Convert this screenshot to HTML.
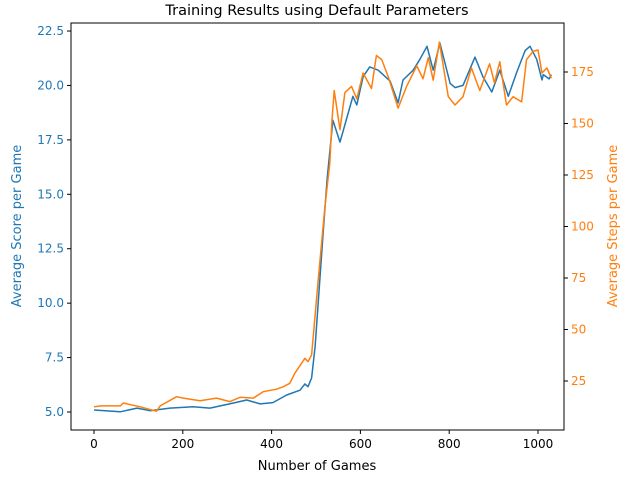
<!DOCTYPE html>
<html><head><meta charset="utf-8"><style>
body{margin:0;background:#fff;}
svg text{font-family:"DejaVu Sans","Liberation Sans",sans-serif;}
</style></head><body>
<svg id="chart" width="627" height="473" xmlns="http://www.w3.org/2000/svg"></svg>
<script>
const scoreGames=[0,59,97,126,171,223,261,313,344,374,403,434,464,475,482,490,498,516,525,538,554,570,583,592,606,621,640,667,685,696,719,734,750,764,779,802,813,831,858,876,896,914,933,952,971,982,997,1009,1012,1025,1030];
const scoreValues=[5.09,5.01,5.18,5.06,5.18,5.24,5.18,5.41,5.55,5.37,5.43,5.78,6.0,6.29,6.16,6.56,8.0,13.2,15.7,18.4,17.4,18.55,19.5,19.1,20.4,20.85,20.7,20.2,19.2,20.25,20.7,21.2,21.8,20.7,21.95,20.1,19.9,20.0,21.3,20.4,19.7,20.7,19.5,20.6,21.6,21.8,21.2,20.25,20.5,20.3,20.5];
const stepGames=[0,16,59,66,104,130,141,149,186,201,239,276,306,329,359,381,411,426,441,452,475,482,490,497,505,520,531,536,541,554,565,580,592,606,625,636,648,663,685,704,727,741,753,764,778,798,813,831,850,869,891,902,914,929,944,963,974,989,1000,1009,1020,1030];
const stepValues=[12.5,12.9,12.9,14.3,12.5,10.9,10.4,12.9,17.4,16.7,15.4,16.7,15.0,17.1,16.7,19.8,21.0,22.2,23.9,28.7,36.0,34.4,37.6,54.6,74,109.5,130.8,151.7,166,147,165,168,162,174.5,167,183,181,172.5,157.5,168,178,171.7,182,171,189.5,163,159,163,177,166,179,169.7,180,159,163,160.5,181,185,185.7,174.5,177,172];
const xTicks=[0,200,400,600,800,1000];
const yLeftTicks=[5.0,7.5,10.0,12.5,15.0,17.5,20.0,22.5];
const yRightTicks=[25,50,75,100,125,150,175];

const L=71,R=564,T=23,B=430;
const xS=v=>94+(v)*0.444;
const yL=v=>412-(v-5)*21.77;
const yR=v=>381-(v-25)*2.06;
const NS="http://www.w3.org/2000/svg";
const svg=document.getElementById('chart');
function mk(tag,attrs,txt){const e=document.createElementNS(NS,tag);for(const k in attrs)e.setAttribute(k,attrs[k]);if(txt!==undefined)e.textContent=txt;svg.appendChild(e);return e;}

let p=scoreGames.map((g,i)=>(i?'L':'M')+xS(g).toFixed(1)+','+yL(scoreValues[i]).toFixed(1)).join('');
const sl=mk('path',{d:p,fill:'none',stroke:'#1f77b4','stroke-width':1.5,'stroke-linejoin':'round'});


p=stepGames.map((g,i)=>(i?'L':'M')+xS(g).toFixed(1)+','+yR(stepValues[i]).toFixed(1)).join('');
const stl=mk('path',{d:p,fill:'none',stroke:'#ff7f0e','stroke-width':1.5,'stroke-linejoin':'round'});



const fr=mk('rect',{x:L,y:T,width:R-L,height:B-T,fill:'none',stroke:'#000','stroke-width':1});



xTicks.forEach(v=>{const x=xS(v);mk('line',{x1:x,x2:x,y1:B,y2:B+4,stroke:'#000'});
const t=mk('text',{x:x,y:B+18,'font-size':12,'text-anchor':'middle'},String(v));

});
yLeftTicks.forEach(v=>{const y=yL(v);mk('line',{x1:L-4,x2:L,y1:y,y2:y,stroke:'#000'});
const t=mk('text',{x:L-7,y:y+4,'font-size':12,'text-anchor':'end',fill:'#1f77b4'},v.toFixed(1));

});
yRightTicks.forEach(v=>{const y=yR(v);mk('line',{x1:R,x2:R+4,y1:y,y2:y,stroke:'#000'});
const t=mk('text',{x:R+7,y:y+4,'font-size':12,'text-anchor':'start',fill:'#ff7f0e'},String(v));

});

const ti=mk('text',{x:317,y:15,'font-size':14.5,'text-anchor':'middle'},'Training Results using Default Parameters');


const xl=mk('text',{x:317,y:470,'font-size':13,'text-anchor':'middle'},'Number of Games');


const yl=mk('text',{x:0,y:0,'font-size':13,'text-anchor':'middle',fill:'#1f77b4',transform:'translate(21,226) rotate(-90)'},'Average Score per Game');


const yr=mk('text',{x:0,y:0,'font-size':13,'text-anchor':'middle',fill:'#ff7f0e',transform:'translate(617,226) rotate(-90)'},'Average Steps per Game');


</script>
</body></html>
